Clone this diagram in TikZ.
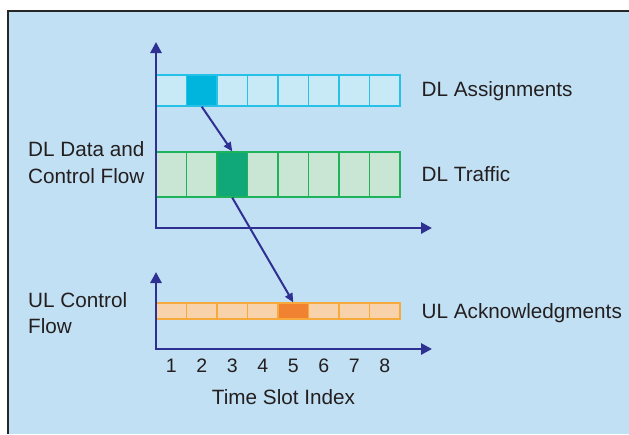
\documentclass[tikz,border=0pt]{standalone}
\usepackage{fontspec}
\setmainfont{Liberation Sans}
\usetikzlibrary{arrows.meta}
\definecolor{bg}{RGB}{194,224,244}
\definecolor{axisblue}{RGB}{46,49,146}
\definecolor{txt}{RGB}{35,31,32}
\definecolor{cyD}{RGB}{0,181,221}
\definecolor{cyL}{RGB}{200,234,246}
\definecolor{cyB}{RGB}{39,192,230}
\definecolor{grD}{RGB}{16,168,120}
\definecolor{grL}{RGB}{201,230,212}
\definecolor{grB}{RGB}{30,178,90}
\definecolor{orD}{RGB}{241,130,50}
\definecolor{orL}{RGB}{248,210,170}
\definecolor{orB}{RGB}{247,170,60}
\tikzset{
  cell/.style={rectangle, inner sep=0pt, minimum width=30.5pt, line width=1.3pt},
  axisline/.style={draw=axisblue, line width=2.8pt, -{Triangle[length=11pt,width=11pt]}},
  flow/.style={draw=axisblue, line width=2pt, -{Triangle[length=9pt,width=8pt]}},
  lbl/.style={inner sep=0pt, text=txt, font=\fontsize{20.7}{26.3}\selectfont},
}
\begin{document}
\begin{tikzpicture}[x=1pt,y=-1pt]
\useasboundingbox (0,0) rectangle (629,434);
\fill[white] (0,0) rectangle (629,434);
\fill[bg] (8,11) rectangle (629,434);
\draw[black!85, line width=1.5pt] (8,434) -- (8,11) -- (629,11);

% DL assignments row
\foreach \i in {1,...,8}{
  \ifnum\i=2 \def\fc{cyD}\else\def\fc{cyL}\fi
  \node[cell, minimum height=31pt, fill=\fc, draw=cyB] (a\i) at ({156+30.5*(\i-0.5)},90.5) {};
}
% DL traffic row
\foreach \i in {1,...,8}{
  \ifnum\i=3 \def\fc{grD}\else\def\fc{grL}\fi
  \node[cell, minimum height=45pt, fill=\fc, draw=grB] (t\i) at ({156+30.5*(\i-0.5)},174.5) {};
}
% UL row
\foreach \i in {1,...,8}{
  \ifnum\i=5 \def\fc{orD}\else\def\fc{orL}\fi
  \node[cell, minimum height=16pt, fill=\fc, draw=orB] (u\i) at ({156+30.5*(\i-0.5)},311) {};
}

% axes
\coordinate (o1) at (156,228);
\coordinate (y1) at (156,42);
\coordinate (x1) at (432,228);
\coordinate (o2) at (156,349);
\coordinate (y2) at (156,272);
\coordinate (x2) at (432,349);
\draw[axisline] ([yshift=1.4pt]o1) -- (y1);
\draw[axisline] ([xshift=-1.4pt]o1) -- (x1);
\draw[axisline] ([yshift=1.4pt]o2) -- (y2);
\draw[axisline] ([xshift=-1.4pt]o2) -- (x2);

% flow arrows
\draw[flow] (a2.south) -- (t3.north);
\draw[flow] (t3.south) -- (u5.north);

% numbers
\foreach \i in {1,...,8}{
  \node[lbl, font=\fontsize{19.5}{22}\selectfont] (n\i) at ({156+30.5*(\i-0.5)},365.5) {\i};
}
\node[lbl, anchor=base] (xl) at (283.5,404) {Time Slot Index};

% labels
\node[lbl, anchor=base west] (la) at (421.5,96.7) {DL Assignments};
\node[lbl, anchor=base west] (lt) at (421.5,181.7) {DL Traffic};
\node[lbl, anchor=base west] (lu) at (421.5,318) {UL Acknowledgments};
\node[lbl, anchor=base west, align=left] (ld) at (28,183) {DL Data and\\Control Flow};
\node[lbl, anchor=base west, align=left] (lc) at (28,333.3) {UL Control\\Flow};
\end{tikzpicture}
\end{document}
